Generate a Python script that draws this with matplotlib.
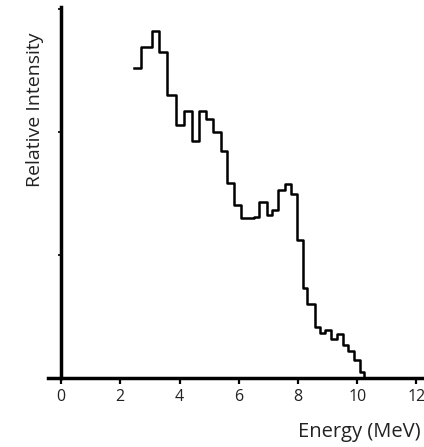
import matplotlib.pyplot as plt

# bin edges (MeV) and relative intensity
edges = [2.47, 2.70, 3.06, 3.31, 3.58, 3.87, 4.15, 4.41, 4.66, 4.90, 5.13,
         5.40, 5.61, 5.85, 6.08, 6.50, 6.70, 6.94, 7.13, 7.33, 7.56, 7.75,
         7.98, 8.18, 8.31, 8.57, 8.74, 8.91, 9.12, 9.32, 9.51, 9.68, 9.89,
         10.08, 10.23]
intensity = [2.52, 2.69, 2.82, 2.65, 2.30, 2.06, 2.17, 1.93, 2.17, 2.11, 2.00,
             1.85, 1.59, 1.41, 1.30, 1.31, 1.43, 1.33, 1.37, 1.53, 1.58, 1.50,
             1.12, 0.73, 0.60, 0.42, 0.37, 0.39, 0.32, 0.36, 0.27, 0.22, 0.15,
             0.05]
xticks = [0, 2, 4, 6, 8, 10, 12]

plt.rcParams['font.family'] = ['Open Sans', 'DejaVu Sans']

fig = plt.figure(figsize=(4.24, 4.47), dpi=100)
ax = fig.add_axes([0.1132, 0.1537, 0.8844, 0.8313])

ax.plot(edges, intensity + [0], drawstyle='steps-post', color='black', lw=1.8)

ax.set_xlim(-0.44, 12.22)
ax.set_ylim(0, 3.02)

for side in ['top', 'right']:
    ax.spines[side].set_visible(False)
ax.spines['left'].set_position(('data', 0))
ax.spines['left'].set_linewidth(2.5)
ax.spines['bottom'].set_linewidth(2.5)

ax.set_xticks(xticks)
ax.set_xticklabels([str(t) for t in xticks], fontsize=11.5, color='#222222')
ax.tick_params(axis='x', direction='out', length=4, width=1.6, pad=4)
ax.set_yticks([0, 1, 2, 3])
ax.set_yticklabels([])
ax.tick_params(axis='y', direction='out', length=2.5, width=1.2)

fig.text(421 / 424, 1 - 432 / 447, 'Energy (MeV)', ha='right', va='center',
         fontsize=14.5, color='#222222')
fig.text(35 / 424, 1 - 110 / 447, 'Relative Intensity', ha='center', va='center',
         rotation=90, fontsize=14, color='#222222')

fig.savefig('out.png', dpi=100)
